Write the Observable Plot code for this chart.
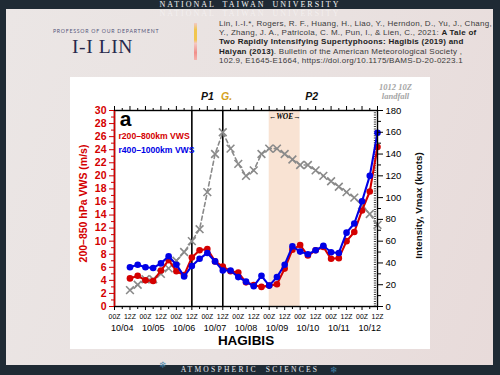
<!DOCTYPE html>
<html><head><meta charset="utf-8">
<script src="https://cdn.jsdelivr.net/npm/d3@7"></script>
<script src="https://cdn.jsdelivr.net/npm/@observablehq/plot@0.6"></script>
<style>
html,body{margin:0;padding:0;}
body{width:500px;height:375px;background:#1f2a34;position:relative;overflow:hidden;font-family:"Open Sans",Lato,sans-serif;}
#panel{position:absolute;left:6px;top:9px;width:487px;height:356px;background:linear-gradient(110deg,#ebe6e5 0%,#e9e1e0 55%,#e8dbda 100%);}
.topname{position:absolute;left:0;width:500px;text-align:center;top:0px;font-family:"Liberation Serif",serif;font-size:8px;line-height:9px;letter-spacing:2px;color:#f4f4f4;word-spacing:3px;}
.ghost{top:9.3px;color:rgba(255,255,255,0.45);}
.bottomname{position:absolute;left:0;width:500px;text-align:center;top:365px;font-family:"Liberation Serif",serif;font-size:7.6px;line-height:10px;letter-spacing:2.2px;color:#e6e8ee;word-spacing:4px;}
.flake{position:absolute;font-family:"DejaVu Sans";color:#3f7fa6;font-size:9px;line-height:10px;}
#prof{position:absolute;left:53px;top:28px;font-family:Lato,sans-serif;font-size:5.2px;letter-spacing:0.75px;color:#55557a;}
#name{position:absolute;left:72px;top:36px;font-family:"Liberation Serif",serif;font-size:19.5px;letter-spacing:0.6px;color:#26284b;}
#bar{position:absolute;left:194px;top:23px;width:3px;height:37px;background:linear-gradient(#f2c9c7 0%,#f0c64e 18%,#f2c64e 45%,#f5c8c3 55%,#f08f8a 80%,#f6b3ad 100%);}
#cite{position:absolute;left:219px;top:18.8px;font-family:"Liberation Sans",Arial,sans-serif;font-size:8px;line-height:9.3px;letter-spacing:0.25px;color:#3a3a3a;white-space:nowrap;}
#cite b{color:#222;}
#chart{position:absolute;left:70px;top:77px;width:360px;height:272px;background:#fff;}
</style></head>
<body>
<div id="panel"></div>
<div class="topname">NATIONAL TAIWAN UNIVERSITY</div>
<div class="topname ghost">NATIONAL TAIWAN UNIVERSITY</div>
<div id="prof">PROFESSOR OF OUR DEPARTMENT</div>
<div id="name">I-I LIN</div>
<div id="bar"></div>
<div id="cite">Lin, I.-I.*, Rogers, R. F., Huang, H., Liao, Y., Herndon, D., Yu, J., Chang,<br>Y., Zhang, J. A., Patricola, C. M., Pun, I., &amp; Lien, C., 2021: <b>A Tale of</b><br><b>Two Rapidly Intensifying Supertyphoons: Hagibis (2019) and</b><br><b>Haiyan (2013)</b>. Bulletin of the American Meteorological Society ,<br>102.9, E1645-E1664, https://doi.org/10.1175/BAMS-D-20-0223.1</div>
<div id="chart"></div>
<div class="bottomname">ATMOSPHERIC SCIENCES</div>
<div class="flake" style="left:159px;top:360px;">❄</div>
<div class="flake" style="left:330px;top:365px;">❄</div>
<script>
// hours after 00Z 10/04 (6-hourly, 12Z 10/04 ... 12Z 10/12)
const hours = [12,18,24,30,36,42,48,54,60,66,72,78,84,90,96,102,108,114,120,126,132,138,144,150,156,162,168,174,180,186,192,198,204];
// r200-800km VWS (m/s)
const vwsR200_800 = [4.3,4.7,4.0,3.9,5.5,7.1,5.4,4.8,7.5,8.6,8.8,6.9,6.1,5.4,5.2,3.7,3.3,3.0,3.2,3.4,5.8,8.7,9.4,7.8,8.6,9.1,7.3,7.4,10.0,11.4,14.7,17.6,24.4];
// r400-1000km VWS (m/s)
const vwsR400_1000 = [6.0,6.4,6.0,5.9,6.6,7.7,6.4,4.6,6.2,7.3,8.2,6.9,5.5,5.5,4.5,3.8,3.1,4.7,3.2,4.5,6.4,9.2,8.4,8.0,8.6,9.3,8.3,8.2,11.3,12.7,16.1,20.0,26.6];
// intensity Vmax (knots)
const vmaxKnots = [15,20,25,25,30,35,42,50,60,71,105,140,160,145,131,120,125,140,145,145,140,135,130,130,125,120,115,110,105,100,93,85,75];

const hourTicks = [0,12,24,36,48,60,72,84,96,108,120,132,144,156,168,180,192,204];
const sixHourTicks = [6,18,30,42,54,66,78,90,102,114,126,138,150,162,174,186,198];
const dateLabels = ["10/04","10/05","10/06","10/07","10/08","10/09","10/10","10/11","10/12"];
const dateHours = [6,30,54,78,102,126,150,174,198];
const leftTicks = [0,2,4,6,8,10,12,14,16,18,20,22,24,26,28,30];
const leftMinor = [1,3,5,7,9,11,13,15,17,19,21,23,25,27,29];
const rightTicks = [0,20,40,60,80,100,120,140,160,180];
const rightMinor = [10,30,50,70,90,110,130,150,170];
const periodLines = [60,84];
const woe = [{start:120,end:144}];
const landfall = [202];
const topLabels = [
  {t:72, s:"P1", c:"#111"},
  {t:87, s:"G.", c:"#d4a11e"},
  {t:153, s:"P2", c:"#111"}
];

const K = 6; // knots per m/s on the shared vertical scale (180 kt <-> 30 m/s)
const rows = hours.map((t,i)=>({t, r:vwsR200_800[i], b:vwsR400_1000[i], v:vmaxKnots[i]/K}));
const RED = "#d40000", BLUE = "#0000e6", GRAY = "#8a8a8a";
const SANS = "Liberation Sans, Arial, sans-serif";
const SERIF = "Liberation Serif, Times New Roman, serif";

const plot = Plot.plot({
  width: 360, height: 272,
  marginLeft: 44, marginRight: 53, marginTop: 33, marginBottom: 43,
  x: {domain:[0,204]},
  y: {domain:[0,30]},
  style: {fontFamily: SANS, background:"transparent", overflow:"visible", color:"#000"},
  marks: [
    Plot.rect(woe, {x1:"start", x2:"end", fill:"#f9e3d3"}),
    Plot.ruleX(landfall, {stroke:"#444", strokeWidth:2.2, strokeDasharray:"1,1.3"}),
    Plot.ruleX(periodLines, {stroke:"#000", strokeWidth:1.6}),
    Plot.lineY(rows, {x:"t", y:"v", stroke:GRAY, strokeWidth:1.6, strokeDasharray:"4,3"}),
    Plot.dot(rows, {x:"t", y:"v", symbol:"times", stroke:GRAY, r:3.6, strokeWidth:1.6}),
    Plot.lineY(rows, {x:"t", y:"r", stroke:RED, strokeWidth:2.1}),
    Plot.dot(rows, {x:"t", y:"r", fill:RED, r:3.3}),
    Plot.lineY(rows, {x:"t", y:"b", stroke:BLUE, strokeWidth:2.1}),
    Plot.dot(rows, {x:"t", y:"b", fill:BLUE, r:3.3}),
    Plot.frame({stroke:"#000", strokeWidth:1.4}),
    Plot.ruleX([0], {stroke:RED, strokeWidth:1.5}),
    // left axis (m/s)
    Plot.axisY({anchor:"left", ticks:leftTicks, tickSize:5, tickPadding:3, color:RED, fontWeight:"bold", fontSize:10.5, label:null}),
    Plot.axisY({anchor:"left", ticks:leftMinor, tickSize:3, color:RED, tickFormat:()=>"", label:null}),
    // right axis (knots)
    Plot.axisY({anchor:"right", ticks:rightTicks.map(v=>v/K), tickSize:5, tickPadding:3, tickFormat:d=>String(Math.round(d*K)), fontSize:9.5, label:null}),
    Plot.axisY({anchor:"right", ticks:rightMinor.map(v=>v/K), tickSize:3, tickFormat:()=>"", label:null}),
    // bottom axis
    Plot.axisX({anchor:"bottom", ticks:hourTicks, tickSize:4, tickPadding:4, tickFormat:t=>t%24===0?"00Z":"12Z", fontSize:6.9, label:null}),
    Plot.axisX({anchor:"bottom", ticks:sixHourTicks, tickSize:3, tickFormat:()=>"", label:null}),
    // top ticks
    Plot.axisX({anchor:"top", ticks:hourTicks, tickSize:5, tickFormat:()=>"", label:null}),
    Plot.axisX({anchor:"top", ticks:sixHourTicks, tickSize:3, tickFormat:()=>"", label:null}),
    // date row and title
    Plot.text(dateLabels, {x:(d,i)=>dateHours[i], text:d=>d, frameAnchor:"bottom", dy:22, fontSize:9, lineAnchor:"middle", textAnchor:"middle"}),
    Plot.text(["HAGIBIS"], {frameAnchor:"bottom", dy:34.5, fontSize:13.5, fontWeight:"bold", lineAnchor:"middle", textAnchor:"middle"}),
    // axis titles
    Plot.text(["200–850 hPa VWS (m/s)"], {frameAnchor:"left", dx:-31, dy:-5, rotate:-90, fontSize:10.5, fontWeight:"bold", fill:RED, textAnchor:"middle", lineAnchor:"middle"}),
    Plot.text(["Intensity, Vmax (knots)"], {frameAnchor:"right", dx:41, dy:-3, rotate:-90, fontSize:9.8, fontWeight:"bold", fill:"#111", textAnchor:"middle", lineAnchor:"middle"}),
    // panel annotations
    Plot.text(["a"], {frameAnchor:"top-left", dx:11, dy:9, fontSize:21, fontWeight:"bold", textAnchor:"middle", lineAnchor:"middle"}),
    Plot.text(["r200–800km VWS"], {frameAnchor:"top-left", dx:4, dy:26, fontSize:8.6, fontWeight:"bold", fill:RED, textAnchor:"start", lineAnchor:"middle"}),
    Plot.text(["r400–1000km VWS"], {frameAnchor:"top-left", dx:4, dy:40, fontSize:8.6, fontWeight:"bold", fill:BLUE, textAnchor:"start", lineAnchor:"middle"}),
    Plot.text(topLabels, {x:"t", text:"s", fill:"c", frameAnchor:"top", dy:-14, fontSize:10.5, fontWeight:"bold", fontStyle:"italic", textAnchor:"middle", lineAnchor:"middle"}),
    Plot.text(["←WOE→"], {x:[132], frameAnchor:"top", dy:6, fontSize:7.5, fontWeight:"bold", fontStyle:"italic", fontFamily:SERIF, textAnchor:"middle", lineAnchor:"middle"}),
    Plot.text(["1012 10Z"], {x:[204], frameAnchor:"top", dx:18, dy:-23, fontSize:8.5, fontWeight:"bold", fontStyle:"italic", fontFamily:SERIF, fill:"#a5a5a5", textAnchor:"middle", lineAnchor:"middle"}),
    Plot.text(["landfall"], {x:[204], frameAnchor:"top", dx:18, dy:-14, fontSize:8.5, fontWeight:"bold", fontStyle:"italic", fontFamily:SERIF, fill:"#a5a5a5", textAnchor:"middle", lineAnchor:"middle"})
  ]
});
document.getElementById("chart").appendChild(plot);
</script>
</body></html>
